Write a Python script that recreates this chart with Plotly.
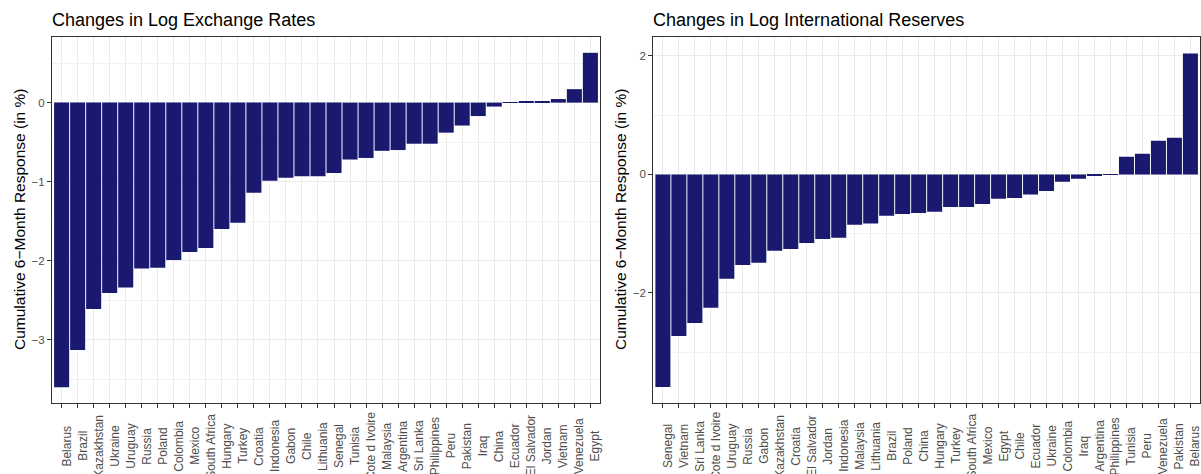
import plotly.graph_objects as go

fx_countries = ["Belarus", "Brazil", "Kazakhstan", "Ukraine", "Uruguay", "Russia", "Poland",
                "Colombia", "Mexico", "South Africa", "Hungary", "Turkey", "Croatia", "Indonesia",
                "Gabon", "Chile", "Lithuania", "Senegal", "Tunisia", "Cote d Ivoire", "Malaysia",
                "Argentina", "Sri Lanka", "Philippines", "Peru", "Pakistan", "Iraq", "China",
                "Ecuador", "El Salvador", "Jordan", "Vietnam", "Venezuela", "Egypt"]
fx_values = [-3.60, -3.13, -2.61, -2.41, -2.34, -2.10, -2.09, -1.99, -1.89, -1.84, -1.60, -1.52,
             -1.14, -0.99, -0.95, -0.93, -0.93, -0.89, -0.72, -0.70, -0.61, -0.60, -0.52, -0.52,
             -0.38, -0.29, -0.17, -0.05, 0.005, 0.008, 0.012, 0.045, 0.17, 0.63]

res_countries = ["Senegal", "Vietnam", "Sri Lanka", "Cote d Ivoire", "Uruguay", "Russia", "Gabon",
                 "Kazakhstan", "Croatia", "El Salvador", "Jordan", "Indonesia", "Malaysia",
                 "Lithuania", "Brazil", "Poland", "China", "Hungary", "Turkey", "South Africa",
                 "Mexico", "Egypt", "Chile", "Ecuador", "Ukraine", "Colombia", "Iraq", "Argentina",
                 "Philippines", "Tunisia", "Peru", "Venezuela", "Pakistan", "Belarus"]
res_values = [-3.59, -2.73, -2.51, -2.25, -1.76, -1.53, -1.49, -1.29, -1.26, -1.16, -1.09, -1.07,
              -0.85, -0.83, -0.70, -0.67, -0.65, -0.63, -0.55, -0.55, -0.50, -0.41, -0.40, -0.34,
              -0.28, -0.125, -0.074, -0.024, -0.006, 0.30, 0.35, 0.57, 0.62, 2.04]

titles = ["Changes in Log Exchange Rates", "Changes in Log International Reserves"]
y_title = "Cumulative 6\u2212Month Response (in %)"

W, H = 1201, 474
BAR = "#191970"
FONT = "Liberation Sans, Arial, sans-serif"

fig = go.Figure()
fig.add_trace(go.Bar(x=fx_countries, y=fx_values, marker=dict(color=BAR, line=dict(width=0)),
                     xaxis="x", yaxis="y", showlegend=False))
fig.add_trace(go.Bar(x=res_countries, y=res_values, marker=dict(color=BAR, line=dict(width=0)),
                     xaxis="x2", yaxis="y2", showlegend=False))

ytop, ybot = 37, 403
ydom = [1 - ybot / H, 1 - ytop / H]
panels = [(52, 600, [-3.80, 0.83], 1, fx_countries), (653.3, 1200, [-3.86, 2.32], 2, res_countries)]

axis_common = dict(
    showline=True, linecolor="#333333", linewidth=1, mirror=True,
    ticks="outside", ticklen=4, tickcolor="#333333", tickwidth=1,
    tickfont=dict(family=FONT, size=11.5, color="#4D4D4D"),
    showgrid=True, gridcolor="#EBEBEB", gridwidth=1, zeroline=False,
    automargin=False,
)

for (x0, x1, yr, k, cats), title in zip(panels, titles):
    sfx = "" if k == 1 else str(k)
    fig.update_layout(**{
        "xaxis" + sfx: dict(axis_common, domain=[x0 / W, x1 / W], anchor="y" + sfx,
                            showticklabels=False, range=[-0.6, 33.6], type="category"),
        "yaxis" + sfx: dict(axis_common, domain=ydom, anchor="x" + sfx, range=yr,
                            dtick=(1 if k == 1 else 2), tick0=0,
                            minor=dict(dtick=(0.5 if k == 1 else 1), showgrid=True,
                                       gridcolor="#F2F2F2", gridwidth=0.6, ticks="")),
    })
    for c in cats:
        fig.add_annotation(text=c, xref="x" + sfx, yref="paper", x=c, y=1 - 446 / H,
                           xanchor="center", yanchor="middle", textangle=-90, xshift=5,
                           showarrow=False,
                           font=dict(family=FONT, size=12, color="#4D4D4D"))
    fig.add_annotation(text=title, xref="paper", yref="paper", x=(x0 - 2) / W, y=1 - 20 / H,
                       xanchor="left", yanchor="middle", showarrow=False,
                       font=dict(family=FONT, size=18, color="black"))
    fig.add_annotation(text=y_title, xref="paper", yref="paper",
                       x=(19 if k == 1 else 620) / W, y=1 - 220 / H, textangle=-90,
                       xanchor="center", yanchor="middle", showarrow=False,
                       font=dict(family=FONT, size=15.5, color="black"))

fig.update_layout(width=W, height=H, margin=dict(l=0, r=0, t=0, b=0),
                  paper_bgcolor="white", plot_bgcolor="white", bargap=0.06,
                  font=dict(family=FONT))
fig.write_html("out.html")
